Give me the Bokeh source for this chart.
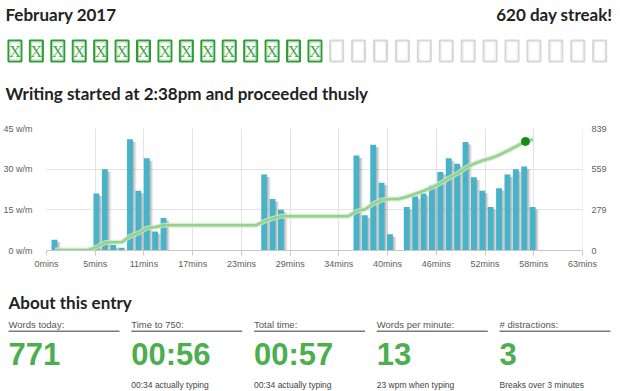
from bokeh.plotting import figure
from bokeh.models import (Range1d, LinearAxis, FixedTicker, CustomJSTickFormatter,
                          PrintfTickFormatter)
from bokeh.core.properties import value
from bokeh.embed import file_html
from bokeh.resources import INLINE

# ---------------- data ----------------
month_title = "February 2017"
streak_text = "620 day streak!"
days_in_month = 28
days_written = 15
chart_title = "Writing started at 2:38pm and proceeded thusly"

bar_minutes = [1, 6, 7, 8, 9, 10, 11, 12, 13, 14,
               26, 27, 28,
               37, 38, 39, 40, 41,
               43, 44, 45, 46, 47, 48, 49, 50, 51, 52, 53, 54, 55, 56, 57, 58]
bar_wpm = [4, 21, 30, 2, 1, 41, 22, 34, 7, 12,
           28, 19, 15,
           35, 13, 39, 25, 6,
           16, 20, 21, 24, 29, 34, 32, 40, 27, 22, 16, 23, 28, 30, 31, 16]

line_minutes = list(range(1, 59))
line_words = [4, 4, 4, 4, 4, 25, 55, 57, 58, 99, 121, 155, 162, 174,
              174, 174, 174, 174, 174, 174, 174, 174, 174, 174, 174,
              202, 221, 236,
              236, 236, 236, 236, 236, 236, 236, 236,
              271, 284, 323, 348, 354, 354,
              370, 390, 411, 435, 464, 498, 530, 570, 597, 619, 635, 658, 686, 716, 747, 763]

milestone_minute = [57.1]
milestone_words = [750]

x_tick_labels = ["0mins", "5mins", "11mins", "17mins", "23mins", "29mins",
                 "34mins", "40mins", "46mins", "52mins", "58mins", "63mins"]
x_max_minutes = 63.9
wpm_ticks = [0, 15, 30, 45]
word_tick_labels = ["0", "279", "559", "839"]

stat_labels = ["Words today:", "Time to 750:", "Total time:", "Words per minute:", "# distractions:"]
stat_values = ["771", "00:56", "00:57", "13", "3"]
stat_notes = ["", "00:34 actually typing", "00:34 actually typing",
              "23 wpm when typing", "Breaks over 3 minutes"]

# ---------------- styles ----------------
W = 620
HEAD_FONT = value("Lato")
SANS = "Liberation Sans"
DARK = "#222222"
GREEN = "#4cae4f"
BAR = "#48b2c8"
TICK_SIZE = "9px"


def blank(h):
    f = figure(width=W, height=h, x_range=Range1d(0, W), y_range=Range1d(h, 0),
               output_backend="svg", toolbar_location=None,
               x_axis_location=None, y_axis_location=None, min_border=0)
    f.grid.visible = False
    f.outline_line_color = None
    return f


def heading(f, x, y, txt, align="left"):
    f.text(x=[x], y=[y], text=[txt], text_font=HEAD_FONT, text_font_style="bold",
           text_font_size="17px", text_baseline="middle", text_align=align, text_color=DARK)


# ---------------- header ----------------
hdr = blank(108)
heading(hdr, 5, 14, month_title)
heading(hdr, 612, 14, streak_text, align="right")

done_x, todo_x = [], []
for i in range(days_in_month):
    if i < days_written:
        done_x.append(7.3 + i * 21.43 + 7.15)
    else:
        todo_x.append(329 + (i - days_written) * 21.92 + 7.15)
box_y = 50.5
hdr.rect(x=todo_x, y=[box_y] * len(todo_x), width=13, height=21, fill_color="white",
         line_color="#d6d6d6", line_width=2)
hdr.rect(x=todo_x, y=[box_y] * len(todo_x), width=10, height=18, fill_color=None,
         line_color="#efefef", line_width=1)
hdr.rect(x=done_x, y=[box_y] * len(done_x), width=13, height=21, fill_color="white",
         line_color="#2f9b35", line_width=2)
hdr.rect(x=done_x, y=[box_y] * len(done_x), width=10, height=18, fill_color=None,
         line_color="#a9dcab", line_width=1)
hdr.text(x=done_x, y=[box_y + 0.5] * len(done_x), text=["X"] * len(done_x),
         text_font=value("Liberation Sans Narrow"), text_font_size="16px",
         text_align="center", text_baseline="middle", text_color="#45a84a")

heading(hdr, 5, 93, chart_title)

# ---------------- chart ----------------
n_int = len(x_tick_labels) - 1
step = x_max_minutes / n_int
x_ticks = [k * step for k in range(n_int + 1)]

chart = figure(width=W, height=175, x_range=Range1d(0, x_max_minutes),
               y_range=Range1d(0, wpm_ticks[-1]),
               output_backend="svg", toolbar_location=None,
               min_border_left=43, min_border_right=38, min_border_top=20, min_border_bottom=33)
chart.outline_line_color = None
chart.extra_y_ranges = {"words": Range1d(0, int(word_tick_labels[-1]))}

xa = chart.xaxis[0]
xa.ticker = FixedTicker(ticks=x_ticks)
xa.formatter = CustomJSTickFormatter(args=dict(labels=x_tick_labels, step=step),
                                     code="return labels[Math.round(tick / step)];")
xa.axis_line_color = "#c8c8c8"
xa.major_tick_line_color = "#c8c8c8"
xa.major_tick_out = 5
xa.major_tick_in = 0
xa.minor_tick_line_color = None
xa.major_label_standoff = 3
xa.major_label_text_font = SANS
xa.major_label_text_font_size = TICK_SIZE
xa.major_label_text_color = "#606060"

ya = chart.yaxis[0]
ya.ticker = FixedTicker(ticks=wpm_ticks)
ya.formatter = PrintfTickFormatter(format="%d w/m")
ya.axis_line_color = None
ya.major_tick_line_color = None
ya.minor_tick_line_color = None
ya.major_label_standoff = 8
ya.major_label_text_font = SANS
ya.major_label_text_font_size = TICK_SIZE
ya.major_label_text_color = "#606060"

ra = LinearAxis(y_range_name="words",
                ticker=FixedTicker(ticks=[int(s) for s in word_tick_labels]))
ra.axis_line_color = None
ra.major_tick_line_color = None
ra.minor_tick_line_color = None
ra.major_label_standoff = 3
ra.major_label_text_font = SANS
ra.major_label_text_font_size = TICK_SIZE
ra.major_label_text_color = "#606060"
chart.add_layout(ra, "right")

chart.xgrid.ticker = FixedTicker(ticks=x_ticks[1:])
chart.ygrid.ticker = FixedTicker(ticks=wpm_ticks)
chart.xgrid.grid_line_color = "#e3e3e3"
chart.ygrid.grid_line_color = "#e3e3e3"

# bar shadows
bx = [m - 0.05 for m in bar_minutes]
for off, alpha in [(0.42, 0.06), (0.3, 0.09), (0.18, 0.12)]:
    chart.vbar(x=[b + off for b in bx], top=[v - 0.9 for v in bar_wpm], width=0.7,
               fill_color="black", fill_alpha=alpha, line_color=None)
chart.vbar(x=bx, top=bar_wpm, width=0.7, fill_color=BAR, line_color=None)

chart.line(x=line_minutes, y=line_words, y_range_name="words",
           line_color="#c8e8c4", line_width=5, line_alpha=0.8)
chart.line(x=line_minutes, y=line_words, y_range_name="words",
           line_color="#98d18f", line_width=2.5)
chart.scatter(x=milestone_minute, y=milestone_words, y_range_name="words",
              size=8, fill_color="#178a17", line_color="#178a17")

# ---------------- footer ----------------
ftr = blank(108)
heading(ftr, 8, 19, "About this entry")
col_x = [8 + i * 122.75 for i in range(len(stat_labels))]
ftr.text(x=col_x, y=[41] * len(col_x), text=stat_labels, text_font=value(SANS),
         text_font_size="9.5px", text_baseline="middle", text_color="#555555")
ftr.segment(x0=col_x, y0=[47.7] * len(col_x), x1=[c + 111 for c in col_x], y1=[47.7] * len(col_x),
            line_color="#7a7a7a", line_width=1.6)
ftr.text(x=col_x, y=[70.5] * len(col_x), text=stat_values, text_font=value(SANS),
         text_font_style="bold", text_font_size="31px", text_baseline="middle",
         text_color=GREEN)
ftr.text(x=col_x, y=[101] * len(col_x), text=stat_notes, text_font=value(SANS),
         text_font_size="8.5px", text_baseline="middle", text_color="#444444")

open("out.html", "w").write(file_html([hdr, chart, ftr], INLINE))
